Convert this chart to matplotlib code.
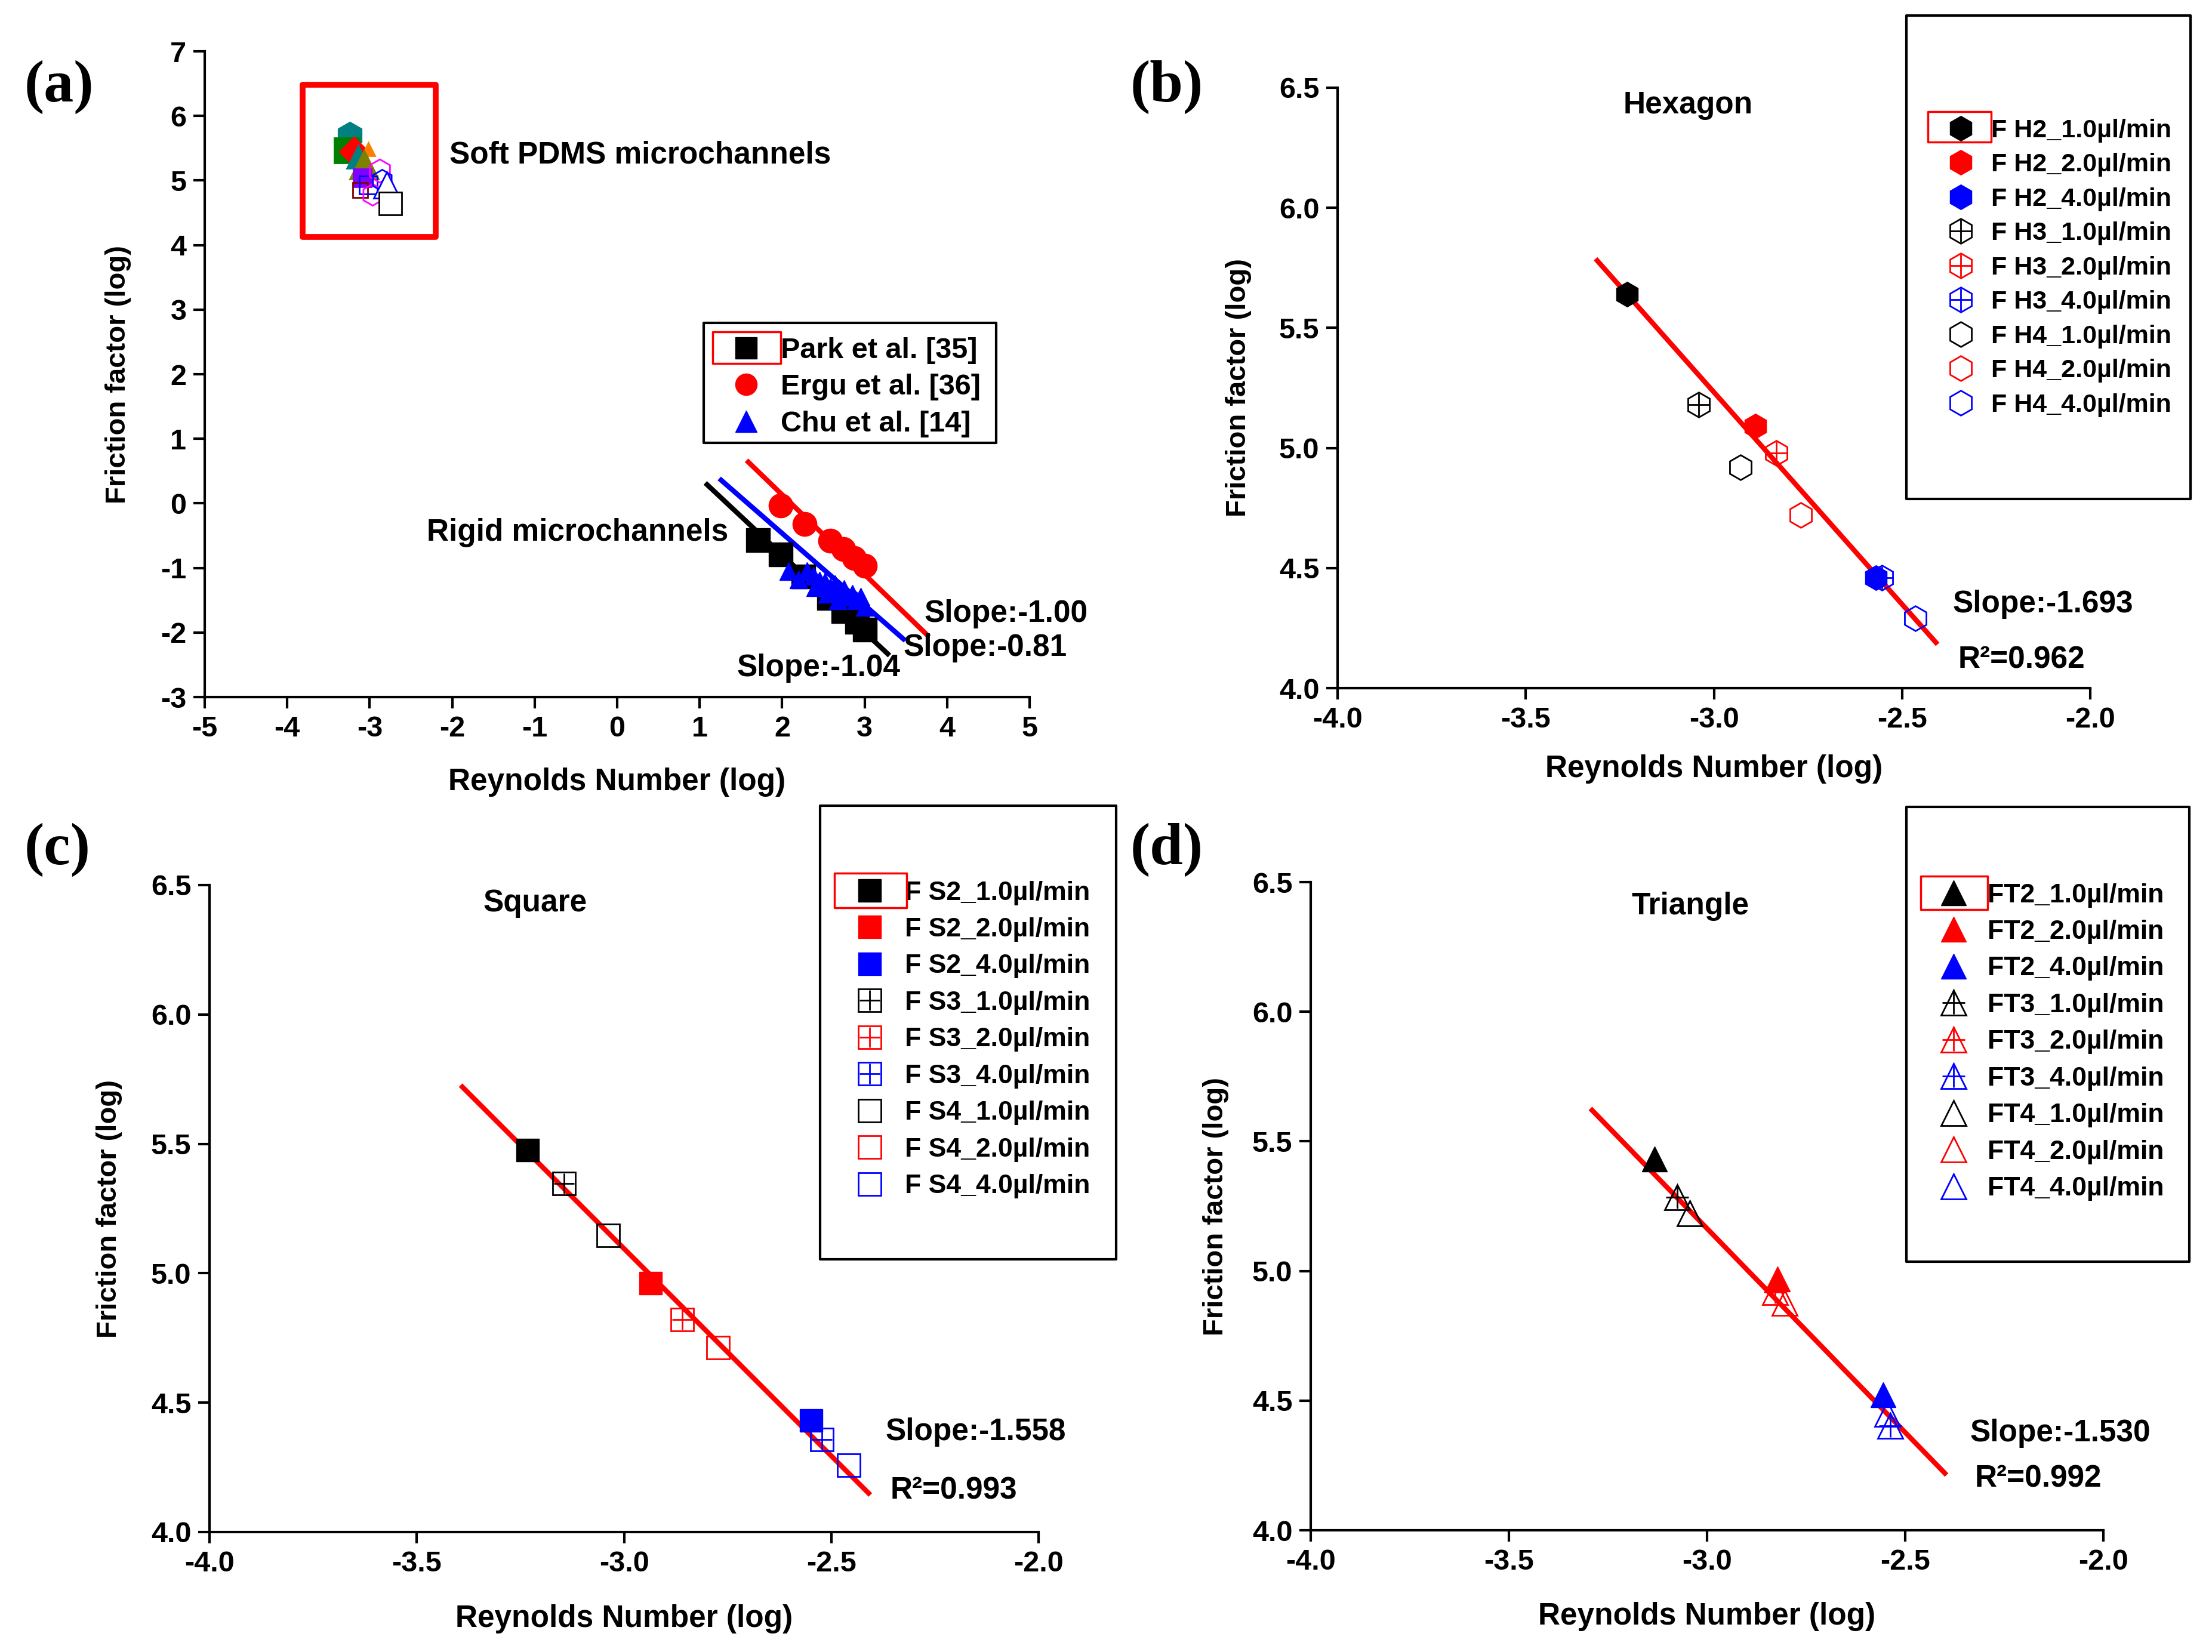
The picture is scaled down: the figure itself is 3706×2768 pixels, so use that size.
import numpy as np
import matplotlib
matplotlib.use("Agg")
import matplotlib.pyplot as plt
from matplotlib.lines import Line2D
from matplotlib.patches import Rectangle

W, H, DPI = 3706, 2768, 100
SANS = ["Liberation Sans", "DejaVu Sans"]
SERIF = ["Liberation Serif", "DejaVu Serif"]

plt.rcParams["font.family"] = SANS
plt.rcParams["font.weight"] = "bold"
plt.rcParams["axes.labelweight"] = "bold"
plt.rcParams["axes.unicode_minus"] = False

# ---------------- panel (a): rigid vs soft channels ----------------
park_x = [1.71, 1.98, 2.26, 2.57, 2.74, 2.91, 3.00]
park_y = [-0.57, -0.79, -1.13, -1.47, -1.67, -1.84, -1.96]
ergu_x = [1.98, 2.27, 2.58, 2.74, 2.87, 3.00]
ergu_y = [-0.03, -0.32, -0.58, -0.71, -0.85, -0.97]
chu_x = [2.08, 2.20, 2.30, 2.38, 2.45, 2.52, 2.58, 2.64, 2.70, 2.75, 2.80, 2.85, 2.90, 2.95, 3.00, 2.40, 2.55, 2.68]
chu_y = [-1.05, -1.18, -1.05, -1.12, -1.20, -1.22, -1.30, -1.25, -1.38, -1.33, -1.45, -1.40, -1.50, -1.45, -1.60, -1.30, -1.40, -1.50]
park_fit_x = [1.09, 3.28]
park_fit_y = [0.29, -2.33]
ergu_fit_x = [1.59, 3.76]
ergu_fit_y = [0.64, -2.04]
chu_fit_x = [1.26, 3.47]
chu_fit_y = [0.36, -2.10]

soft_x = [-3.24, -3.28, -3.19, -3.02, -3.14, -3.07, -3.09, -3.12, -3.02, -2.88, -2.97, -2.85, -2.79, -2.75]
soft_y = [5.70, 5.47, 5.45, 5.48, 5.36, 5.24, 5.04, 4.86, 4.93, 5.15, 4.78, 5.00, 4.93, 4.64]
soft_style = [("h", "#008080", "#008080", 32), ("s", "#008000", "#008000", 30), ("D", "red", "red", 24),
              ("^", "#FF8000", "#FF8000", 16), ("^", "#008080", "#008080", 28), ("^", "#808000", "#808000", 34),
              ("s", "#8000FF", "#8000FF", 22), ("s", "none", "#800000", 18), ("s", "none", "blue", 22),
              ("h", "none", "#FF00FF", 28), ("h", "none", "#FF00FF", 26), ("h", "none", "blue", 26),
              ("^", "white", "blue", 32), ("s", "white", "black", 28)]

rigid_labels = ["Park et al. [35]", "Ergu et al. [36]", "Chu et al. [14]"]

# ---------------- panels (b)-(d) ----------------
rates = ["1.0", "2.0", "4.0"]
rate_colors = ["black", "red", "blue"]

hex2_x = [-3.23, -2.89, -2.57]
hex2_y = [5.64, 5.09, 4.46]
hex3_x = [-3.04, -2.835, -2.554]
hex3_y = [5.18, 4.98, 4.46]
hex4_x = [-2.93, -2.77, -2.464]
hex4_y = [4.92, 4.72, 4.29]
hex_fit_x = [-3.31, -2.41]
hex_fit_y = [5.78, 4.19]

sq2_x = [-3.232, -2.936, -2.548]
sq2_y = [5.476, 4.961, 4.432]
sq3_x = [-3.144, -2.860, -2.523]
sq3_y = [5.348, 4.821, 4.357]
sq4_x = [-3.038, -2.773, -2.458]
sq4_y = [5.146, 4.713, 4.259]
sq_fit_x = [-3.39, -2.41]
sq_fit_y = [5.72, 4.15]

tri2_x = [-3.132, -2.822, -2.555]
tri2_y = [5.432, 4.969, 4.522]
tri3_x = [-3.075, -2.829, -2.538]
tri3_y = [5.284, 4.918, 4.404]
tri4_x = [-3.043, -2.804, -2.545]
tri4_y = [5.223, 4.877, 4.450]
tri_fit_x = [-3.29, -2.40]
tri_fit_y = [5.62, 4.22]

TXT = 37  # size of in-plot annotations


def fig_rect(fig, x0, y0, x1, y1, color, lw):
    # rectangle given in pixel coords of the final image (y downwards)
    fig.add_artist(Rectangle((x0 / W, 1 - y1 / H), (x1 - x0) / W, (y1 - y0) / H,
                             transform=fig.transFigure, fill=False, ec=color, lw=lw,
                             joinstyle="round"))


def style_axes(ax, xlim, ylim, xticks, yticks, fmt, xlab_y, ylab_x):
    ax.set_xlim(xlim)
    ax.set_ylim(ylim)
    for s in ["top", "right"]:
        ax.spines[s].set_visible(False)
    for s in ["left", "bottom"]:
        ax.spines[s].set_linewidth(3)
    ax.set_xticks(xticks)
    ax.set_yticks(yticks)
    ax.set_xticklabels([fmt % t for t in xticks], fontweight="bold")
    ax.set_yticklabels([fmt % t for t in yticks], fontweight="bold")
    ax.tick_params(direction="out", length=14, width=3, labelsize=35, pad=8)
    ax.set_xlabel("Reynolds Number (log)", fontsize=37, fontweight="bold", va="center")
    ax.set_ylabel("Friction factor (log)", fontsize=34, fontweight="bold", va="center")
    ax.xaxis.set_label_coords(0.5, xlab_y)
    ax.yaxis.set_label_coords(ylab_x, 0.5)


def put_legend(ax, handles, labels, marker_px, text_px, row0_px, pitch_px, fs):
    fs_px = fs * DPI / 72
    hl = 1.2
    left = marker_px - hl * fs_px / 2
    pad = (text_px - left - hl * fs_px) / fs_px
    top = row0_px - 0.37 * fs_px
    spacing = pitch_px / fs_px - 0.93
    ax.legend(handles, labels, loc="upper left", bbox_to_anchor=(left / W, 1 - top / H),
              bbox_transform=ax.figure.transFigure, frameon=False, borderpad=0,
              borderaxespad=0, handlelength=hl, handletextpad=pad, labelspacing=spacing,
              prop={"family": SANS, "weight": "bold", "size": fs})


def draw_shape(ax, xs, ys, marker, kind, ms):
    handles = []
    for x, y, c in zip(xs, ys, rate_colors):
        if kind == "filled":
            ax.plot(x, y, marker=marker, ms=ms, mfc=c, mec=c, ls="none", zorder=3)
            h = Line2D([], [], marker=marker, ms=ms, mfc=c, mec=c, ls="none")
        elif kind == "open":
            ax.plot(x, y, marker=marker, ms=ms, mfc="none", mec=c, mew=2, ls="none", zorder=3)
            h = Line2D([], [], marker=marker, ms=ms, mfc="none", mec=c, mew=2, ls="none")
        else:
            ax.plot(x, y, marker=marker, ms=ms, mfc="none", mec=c, mew=2, ls="none", zorder=3)
            ax.plot(x, y, marker="+", ms=ms * 0.9, mec=c, mew=2, ls="none", zorder=3)
            h = (Line2D([], [], marker=marker, ms=ms, mfc="none", mec=c, mew=2, ls="none"),
                 Line2D([], [], marker="+", ms=ms * 0.9, mec=c, mew=2, ls="none"))
        handles.append(h)
    return handles


fig = plt.figure(figsize=(W / DPI, H / DPI), dpi=DPI)

# ---------- (a) ----------
axa = fig.add_axes([343 / W, 1 - 1168 / H, (1725 - 343) / W, (1168 - 86) / H])
style_axes(axa, (-5, 5), (-3, 7), list(range(-5, 6)), list(range(-3, 8)), "%d", -0.132, -0.105)
axa.plot(park_fit_x, park_fit_y, color="black", lw=6, zorder=2)
axa.plot(chu_fit_x, chu_fit_y, color="blue", lw=6, zorder=2)
axa.plot(ergu_fit_x, ergu_fit_y, color="red", lw=6, zorder=2)
axa.plot(park_x, park_y, "s", color="black", ms=29, zorder=3)
axa.plot(chu_x, chu_y, "^", color="blue", ms=22, zorder=3)
axa.plot(ergu_x, ergu_y, "o", color="red", ms=29, zorder=3)
for x, y, (m, fc, ec, ms) in zip(soft_x, soft_y, soft_style):
    axa.plot(x, y, marker=m, ms=ms, mfc=fc, mec=ec, mew=2, ls="none", zorder=3)
axa.add_patch(Rectangle((-3.81, 4.13), 1.61, 2.35, fill=False, ec="red", lw=7,
                        joinstyle="round", clip_on=False))
axa.text(-2.03, 5.39, "Soft PDMS microchannels", fontsize=TXT, va="center")
axa.text(-2.31, -0.45, "Rigid microchannels", fontsize=TXT, va="center")
axa.text(3.72, -1.71, "Slope:-1.00", fontsize=TXT, va="center")
axa.text(3.47, -2.24, "Slope:-0.81", fontsize=TXT, va="center")
axa.text(1.45, -2.55, "Slope:-1.04", fontsize=TXT, va="center")
rigid_handles = [Line2D([], [], marker="s", color="black", ls="none", ms=26),
                 Line2D([], [], marker="o", color="red", ls="none", ms=26),
                 Line2D([], [], marker="^", color="blue", ls="none", ms=26)]
put_legend(axa, rigid_handles, rigid_labels, 1250, 1308, 583, 61.5, 35)
fig_rect(fig, 1179, 541, 1669, 742, "black", 3)
fig_rect(fig, 1194, 556, 1308, 609, "red", 2.5)

# ---------- (b) hexagon ----------
axb = fig.add_axes([2241 / W, 1 - 1153 / H, (3502 - 2241) / W, (1153 - 147) / H])
ticks_x = list(np.arange(-4.0, -1.99, 0.5))
ticks_y = list(np.arange(4.0, 6.51, 0.5))
style_axes(axb, (-4, -2), (4, 6.5), ticks_x, ticks_y, "%.1f", -0.135, -0.132)
axb.plot(hex_fit_x, hex_fit_y, color="red", lw=6, zorder=2)
hb = draw_shape(axb, hex2_x, hex2_y, "h", "filled", 30)
hb += draw_shape(axb, hex3_x, hex3_y, "h", "crossed", 30)
hb += draw_shape(axb, hex4_x, hex4_y, "h", "open", 30)
lb = ["F H%d_%sµl/min" % (g, r) for g in (2, 3, 4) for r in rates]
axb.text(-3.069, 6.427, "Hexagon", fontsize=TXT, ha="center", va="center")
axb.text(-2.366, 4.35, "Slope:-1.693", fontsize=TXT, va="center")
axb.text(-2.351, 4.117, "R²=0.962", fontsize=TXT, va="center")
put_legend(axb, hb, lb, 3285, 3336, 214.5, 57.6, 31)
fig_rect(fig, 3194, 26, 3670, 836, "black", 3)
fig_rect(fig, 3230, 187, 3336, 238, "red", 2.5)

# ---------- (c) square ----------
axc = fig.add_axes([351 / W, 1 - 2567 / H, (1740 - 351) / W, (2567 - 1483) / H])
style_axes(axc, (-4, -2), (4, 6.5), ticks_x, ticks_y, "%.1f", -0.134, -0.121)
axc.plot(sq_fit_x, sq_fit_y, color="red", lw=6, zorder=2)
hc = draw_shape(axc, sq2_x, sq2_y, "s", "filled", 27)
hc += draw_shape(axc, sq3_x, sq3_y, "s", "crossed", 27)
hc += draw_shape(axc, sq4_x, sq4_y, "s", "open", 27)
lc = ["F S%d_%sµl/min" % (g, r) for g in (2, 3, 4) for r in rates]
axc.text(-3.215, 6.429, "Square", fontsize=TXT, ha="center", va="center")
axc.text(-2.370, 4.387, "Slope:-1.558", fontsize=TXT, va="center")
axc.text(-2.357, 4.159, "R²=0.993", fontsize=TXT, va="center")
put_legend(axc, hc, lc, 1457, 1516, 1492, 61.8, 32)
fig_rect(fig, 1374, 1350, 1870, 2110, "black", 3)
fig_rect(fig, 1398, 1463, 1519, 1521, "red", 2.5)

# ---------- (d) triangle ----------
axd = fig.add_axes([2196 / W, 1 - 2564 / H, (3524 - 2196) / W, (2564 - 1478) / H])
style_axes(axd, (-4, -2), (4, 6.5), ticks_x, ticks_y, "%.1f", -0.133, -0.120)
axd.plot(tri_fit_x, tri_fit_y, color="red", lw=6, zorder=2)
hd = draw_shape(axd, tri2_x, tri2_y, "^", "filled", 30)
hd += draw_shape(axd, tri3_x, tri3_y, "^", "crossed", 30)
hd += draw_shape(axd, tri4_x, tri4_y, "^", "open", 30)
ld = ["FT%d_%sµl/min" % (g, r) for g in (2, 3, 4) for r in rates]
axd.text(-3.043, 6.407, "Triangle", fontsize=TXT, ha="center", va="center")
axd.text(-2.336, 4.375, "Slope:-1.530", fontsize=TXT, va="center")
axd.text(-2.324, 4.197, "R²=0.992", fontsize=TXT, va="center")
put_legend(axd, hd, ld, 3273, 3330, 1496, 61.8, 32)
fig_rect(fig, 3194, 1352, 3668, 2114, "black", 3)
fig_rect(fig, 3218, 1468, 3330, 1524, "red", 2.5)

# panel letters
for lab, px, py in [("(a)", 41, 146), ("(b)", 1894, 146), ("(c)", 41, 1424), ("(d)", 1894, 1424)]:
    fig.text(px / W, 1 - py / H, lab, family=SERIF, weight="bold", fontsize=72,
             ha="left", va="center")

fig.savefig("out.png", dpi=DPI)
